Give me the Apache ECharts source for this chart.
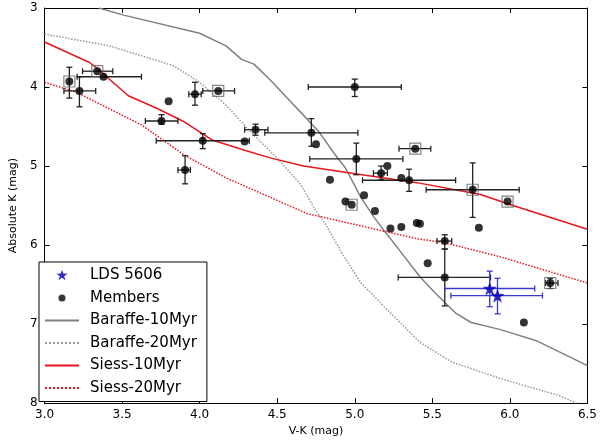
<!DOCTYPE html>
<html>
<head>
<meta charset="utf-8">
<script src="https://cdn.jsdelivr.net/npm/echarts@6/dist/echarts.min.js"></script>
<style>
  html, body { margin: 0; padding: 0; background: #fff; }
  #chart { width: 600px; height: 442px; }
</style>
</head>
<body>
<div id="chart"></div>
<script>
// members: [V-K, M_K]
var members = [
  [3.16, 3.93], [3.225, 4.05], [3.34, 3.80], [3.38, 3.87], [3.80, 4.18],
  [3.754, 4.43], [3.97, 4.09], [4.12, 4.05], [4.02, 4.68], [4.29, 4.69],
  [4.36, 4.54], [3.906, 5.05], [4.72, 4.58], [4.75, 4.725], [4.84, 5.175],
  [5.0, 4.00], [5.01, 4.91], [5.39, 4.78], [5.21, 5.00], [5.17, 5.09],
  [5.30, 5.15], [5.35, 5.18], [4.94, 5.45], [4.98, 5.49], [5.06, 5.37],
  [5.13, 5.57], [5.23, 5.79], [5.30, 5.77], [5.40, 5.72], [5.42, 5.73],
  [5.76, 5.30], [5.985, 5.45], [5.80, 5.78], [5.58, 5.95], [5.58, 6.41],
  [5.47, 6.23], [6.26, 6.48], [6.09, 6.98]
];
// members drawn inside an open square
var boxed = [
  [3.16, 3.93], [3.34, 3.80], [4.12, 4.05], [5.39, 4.78], [4.98, 5.49],
  [5.76, 5.30], [5.985, 5.45], [6.26, 6.48]
];
// error bars: [x, y, xlo, xhi, ylo, yhi] (null = none)
var memberErr = [
  [3.16, 3.93, null, null, 3.75, 4.14],
  [3.225, 4.05, 3.125, 3.33, 3.87, 4.25],
  [3.34, 3.80, 3.245, 3.44, null, null],
  [3.38, 3.87, 3.21, 3.625, null, null],
  [3.754, 4.43, 3.65, 3.86, 4.35, 4.47],
  [3.97, 4.09, 3.93, 4.01, 3.94, 4.23],
  [4.12, 4.05, 4.02, 4.225, null, null],
  [4.02, 4.68, 3.72, 4.32, 4.59, 4.78],
  [4.36, 4.54, 4.29, 4.44, 4.47, 4.61],
  [3.906, 5.05, 3.86, 3.94, 4.87, 5.225],
  [4.72, 4.58, 4.42, 5.02, 4.40, 4.75],
  [5.0, 4.00, 4.70, 5.30, 3.90, 4.12],
  [5.01, 4.91, 4.71, 5.31, 4.71, 5.11],
  [5.39, 4.78, 5.285, 5.49, null, null],
  [5.17, 5.09, 5.12, 5.21, 5.00, 5.17],
  [5.35, 5.18, 5.05, 5.65, 5.04, 5.32],
  [5.76, 5.30, 5.46, 6.06, 4.96, 5.65],
  [5.58, 5.95, 5.53, 5.625, 5.87, 6.05],
  [5.58, 6.41, 5.28, 5.875, 6.05, 6.77],
  [6.26, 6.48, 6.23, 6.31, 6.42, 6.55]
];
var lds = [[5.87, 6.55], [5.92, 6.64]];
var ldsErr = [
  [5.87, 6.55, 5.58, 6.16, 6.33, 6.78],
  [5.92, 6.64, 5.62, 6.21, 6.42, 6.87]
];
var baraffe10 = [
  [3.35, 3.0], [3.51, 3.09], [4.0, 3.32], [4.17, 3.48], [4.27, 3.65], [4.35, 3.71],
  [4.46, 3.92], [4.56, 4.13], [4.69, 4.40], [4.77, 4.57], [4.875, 4.86], [4.94, 5.025],
  [5.04, 5.40], [5.125, 5.65], [5.19, 5.82], [5.29, 6.07], [5.42, 6.40], [5.52, 6.61],
  [5.65, 6.86], [5.75, 6.98], [5.94, 7.07], [6.17, 7.21], [6.5, 7.525]
];
var baraffe20 = [
  [3.0, 3.33], [3.42, 3.48], [3.83, 3.73], [4.0, 3.94], [4.17, 4.23], [4.33, 4.57],
  [4.5, 4.90], [4.65, 5.23], [4.75, 5.57], [4.81, 5.73], [4.92, 6.11], [5.04, 6.48],
  [5.21, 6.82], [5.42, 7.23], [5.625, 7.48], [5.94, 7.69], [6.31, 7.90], [6.43, 8.0]
];
var siess10 = [
  [3.0, 3.43], [3.29, 3.69], [3.33, 3.75], [3.54, 4.11], [3.73, 4.275], [3.9, 4.44],
  [4.08, 4.67], [4.29, 4.80], [4.46, 4.90], [4.67, 5.00], [4.98, 5.09], [5.40, 5.21],
  [5.81, 5.36], [6.02, 5.50], [6.5, 5.80]
];
var siess20 = [
  [3.0, 3.94], [3.21, 4.07], [3.625, 4.48], [3.9, 4.86], [4.17, 5.15], [4.46, 5.40],
  [4.69, 5.60], [4.98, 5.73], [5.40, 5.92], [5.58, 5.97], [5.94, 6.15], [6.5, 6.48]
];

var starPath = 'path://M0,-10L2.35,-3.24L9.51,-3.09L3.8,1.24L5.88,8.09L0,4L-5.88,8.09L-3.8,1.24L-9.51,-3.09L-2.35,-3.24Z';
var smallStar = 'path://M-12,-12L-12,-12M12,12L12,12M0,-10L2.35,-3.24L9.51,-3.09L3.8,1.24L5.88,8.09L0,4L-5.88,8.09L-3.8,1.24L-9.51,-3.09L-2.35,-3.24Z';
var smallDot = 'path://M0,0L0,0M14,14L14,14M7,3.5A3.5,3.5,0,1,1,7,10.5A3.5,3.5,0,1,1,7,3.5Z';

function errorSeries(list, color, z) {
  return {
    type: 'custom',
    z: z,
    silent: true,
    data: list.map(function (e) { return [e[0], e[1]]; }),
    renderItem: function (params, api) {
      var e = list[params.dataIndex];
      var kids = [];
      var cap = 3;
      var st = { stroke: color, lineWidth: 1.3 };
      if (e[2] != null) {
        var a = api.coord([e[2], e[1]]), b = api.coord([e[3], e[1]]);
        kids.push({ type: 'line', shape: { x1: a[0], y1: a[1], x2: b[0], y2: b[1] }, style: st });
        kids.push({ type: 'line', shape: { x1: a[0], y1: a[1] - cap, x2: a[0], y2: a[1] + cap }, style: st });
        kids.push({ type: 'line', shape: { x1: b[0], y1: b[1] - cap, x2: b[0], y2: b[1] + cap }, style: st });
      }
      if (e[4] != null) {
        var c = api.coord([e[0], e[4]]), d = api.coord([e[0], e[5]]);
        kids.push({ type: 'line', shape: { x1: c[0], y1: c[1], x2: d[0], y2: d[1] }, style: st });
        kids.push({ type: 'line', shape: { x1: c[0] - cap, y1: c[1], x2: c[0] + cap, y2: c[1] }, style: st });
        kids.push({ type: 'line', shape: { x1: d[0] - cap, y1: d[1], x2: d[0] + cap, y2: d[1] }, style: st });
      }
      return { type: 'group', children: kids };
    }
  };
}

function curve(name, data, color, type) {
  return {
    name: name, type: 'line', data: data, symbol: 'none', z: 3,
    lineStyle: { color: color, width: 1.5, type: type },
    itemStyle: { color: color }
  };
}

function lineEntry(name) {
  return { name: name, itemStyle: { opacity: 0, borderWidth: 0 } };
}

var font = 'DejaVu Sans';
var axisCommon = {
  type: 'value',
  axisLine: { show: true, onZero: false, lineStyle: { color: '#000', width: 1 } },
  axisTick: { show: true, inside: true, length: 5, lineStyle: { color: '#000' } },
  splitLine: { show: false }
};

var chart = echarts.init(document.getElementById('chart'));
chart.setOption({
  animation: false,
  backgroundColor: '#fff',
  textStyle: { fontFamily: font },
  grid: { left: 30, right: 10, top: 8, bottom: 33 },
  xAxis: [
    Object.assign({}, axisCommon, {
      min: 3, max: 6.5, interval: 0.5, position: 'bottom',
      name: 'V-K (mag)', nameLocation: 'middle', nameGap: 18,
      nameTextStyle: { fontSize: 11, color: '#000', fontFamily: font },
      axisLabel: { fontSize: 12, color: '#000', margin: 6, fontFamily: font,
        formatter: function (v) { return v.toFixed(1); } }
    }),
    Object.assign({}, axisCommon, {
      min: 3, max: 6.5, interval: 0.5, position: 'top',
      axisLabel: { show: false }
    })
  ],
  yAxis: [
    Object.assign({}, axisCommon, {
      min: 3, max: 8, interval: 1, inverse: true, position: 'left',
      name: 'Absolute K (mag)', nameLocation: 'middle', nameGap: 21,
      nameTextStyle: { fontSize: 11, color: '#000', fontFamily: font },
      axisLabel: { fontSize: 12, color: '#000', margin: 7, fontFamily: font }
    }),
    Object.assign({}, axisCommon, {
      min: 3, max: 8, interval: 1, inverse: true, position: 'right',
      axisLabel: { show: false }
    })
  ],
  legend: {
    left: 39, top: 262, orient: 'vertical',
    padding: [6, 10, 6, 5],
    itemGap: 7.5, itemWidth: 34, itemHeight: 14,
    borderColor: '#000', borderWidth: 1, borderRadius: 0,
    backgroundColor: '#fff',
    textStyle: { fontSize: 15, color: '#000', fontFamily: font, padding: [0, 0, 0, 6] },
    data: [
      { name: 'LDS 5606', icon: smallStar },
      { name: 'Members', icon: smallDot },
      lineEntry('Baraffe-10Myr'), lineEntry('Baraffe-20Myr'),
      lineEntry('Siess-10Myr'), lineEntry('Siess-20Myr')
    ]
  },
  series: [
    curve('Baraffe-10Myr', baraffe10, '#808080', 'solid'),
    curve('Baraffe-20Myr', baraffe20, '#999999', 'dotted'),
    curve('Siess-10Myr', siess10, '#e8151b', 'solid'),
    curve('Siess-20Myr', siess20, '#e8151b', 'dotted'),
    errorSeries(memberErr, '#222222', 4),
    errorSeries(ldsErr, '#3a3ad0', 6),
    {
      type: 'scatter', data: boxed, symbol: 'rect', symbolSize: 11, z: 5, silent: true,
      itemStyle: { color: 'transparent', borderColor: '#666', borderWidth: 1.2 }
    },
    {
      name: 'Members', type: 'scatter', data: members, symbol: 'circle', symbolSize: 8, z: 6,
      itemStyle: { color: '#000' }
    },
    {
      name: 'LDS 5606', type: 'scatter', data: lds, symbol: starPath, symbolSize: 14, z: 7,
      itemStyle: { color: '#0000b4' }
    }
  ]
});
</script>
</body>
</html>
